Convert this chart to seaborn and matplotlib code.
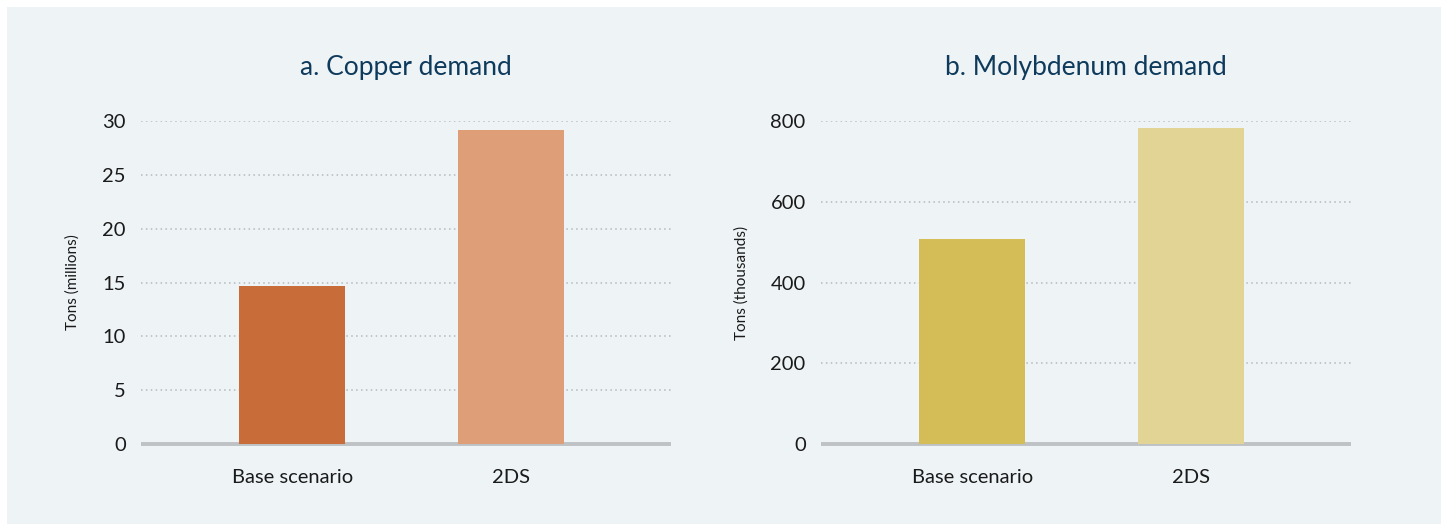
import pandas as pd
import seaborn as sns
import matplotlib.pyplot as plt
from matplotlib.patches import Rectangle

# Data
scenarios = ["Base scenario", "2DS"]
copper_values = [14.7, 29.2]          # tons, millions
molybdenum_values = [507, 782]        # tons, thousands

copper_colors = ["#C86D39", "#DE9E78"]
molybdenum_colors = ["#D4BD57", "#E2D495"]

copper_ticks = [0, 5, 10, 15, 20, 25, 30]
molybdenum_ticks = [0, 200, 400, 600, 800]

bg = "#EEF3F6"
navy = "#0E3A5C"

sns.set_theme(style="white")
plt.rcParams["font.family"] = ["Lato", "DejaVu Sans"]

fig = plt.figure(figsize=(14.48, 5.31), dpi=100, facecolor="white")
fig.patches.append(Rectangle((7 / 1448, 7 / 531), 1434 / 1448, 517 / 531,
                             transform=fig.transFigure, facecolor=bg,
                             edgecolor="none", zorder=-10))

panels = [
    (141, "a. Copper demand", "Tons (millions)", copper_values, copper_colors,
     copper_ticks, (0, 30), -0.116),
    (821, "b. Molybdenum demand", "Tons (thousands)", molybdenum_values,
     molybdenum_colors, molybdenum_ticks, (0, 800), -0.136),
]

for left, title, ylabel, values, colors, ticks, ylim, labx in panels:
    ax = fig.add_axes([left / 1448, 87 / 531, 530 / 1448, 323 / 531])
    ax.set_facecolor("none")
    df = pd.DataFrame({"scenario": scenarios, "value": values})
    sns.barplot(data=df, x="scenario", y="value", hue="scenario",
                palette=colors, legend=False, width=0.485, saturation=1,
                linewidth=0, ax=ax, zorder=3)
    ax.set_xlim(-0.69, 1.73)
    ax.set_ylim(*ylim)
    ax.set_yticks(ticks)
    for t in ticks[1:]:
        ax.axhline(t, color="#B5B9BD", lw=1.1, ls=(0, (1, 2.2)), zorder=1)
    ax.axhline(0, color="#BFC2C4", lw=2.8, zorder=2, clip_on=False,
               solid_capstyle="butt")
    for s in ax.spines.values():
        s.set_visible(False)
    ax.tick_params(axis="y", length=0, pad=11, labelsize=14.5, labelcolor="#1A1A1A")
    ax.tick_params(axis="x", length=0, pad=18, labelsize=14.5, labelcolor="#1A1A1A")
    ax.set_xlabel("")
    ax.set_ylabel(ylabel, fontsize=11, color="#1A1A1A")
    ax.yaxis.set_label_coords(labx, 0.5)
    ax.text(0.5, 1.167, title, transform=ax.transAxes, ha="center",
            va="center", fontsize=19, color=navy)

fig.savefig("out.png", dpi=100, facecolor="white")
